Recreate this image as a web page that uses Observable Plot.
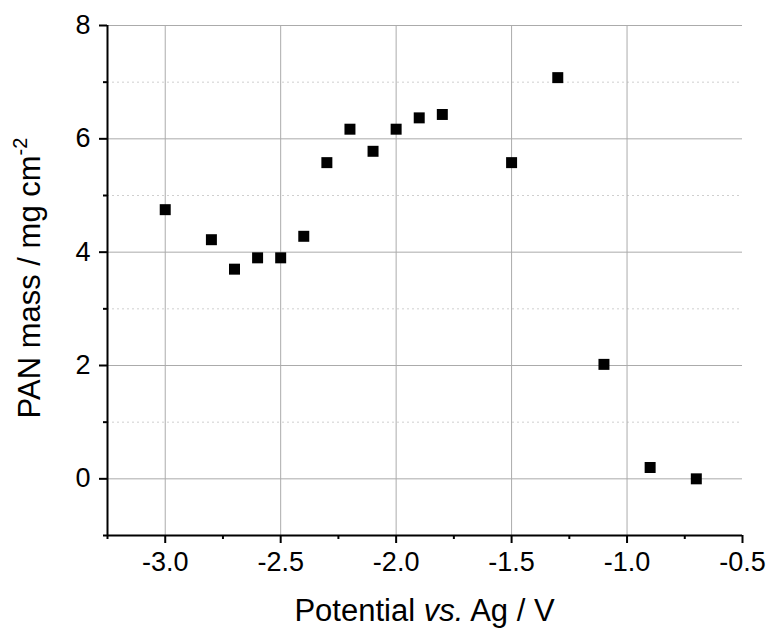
<!DOCTYPE html>
<html>
<head>
<meta charset="utf-8">
<script src="https://cdn.jsdelivr.net/npm/d3@7"></script>
<script src="https://cdn.jsdelivr.net/npm/@observablehq/plot@0.6"></script>
<style>
  html, body { margin: 0; padding: 0; background: #fff; }
  svg { font-family: "Liberation Sans", Arial, sans-serif; }
</style>
</head>
<body>
<div id="chart"></div>
<script>
const potential = [-3.0, -2.8, -2.7, -2.6, -2.5, -2.4, -2.3, -2.2, -2.1, -2.0, -1.9, -1.8, -1.5, -1.3, -1.1, -0.9, -0.7];
const mass      = [4.75, 4.22, 3.70, 3.90, 3.90, 4.28, 5.58, 6.17, 5.78, 6.17, 6.37, 6.43, 5.58, 7.08, 2.02, 0.20, 0.00];
const xMajorTicks = [-3.0, -2.5, -2.0, -1.5, -1.0, -0.5];
const xMinorTicks = [-3.25, -2.75, -2.25, -1.75, -1.25, -0.75];
const yMajorTicks = [0, 2, 4, 6, 8];
const yMinorTicks = [-1, 1, 3, 5, 7];

const data = potential.map((p, i) => ({potential: p, mass: mass[i]}));

const W = 769, H = 628;
const chart = Plot.plot({
  width: W,
  height: H,
  marginLeft: 107,
  marginRight: 27,
  marginTop: 25,
  marginBottom: 93,
  style: {fontFamily: "'Liberation Sans', Arial, sans-serif", background: "#fff", overflow: "visible"},
  x: {domain: [-3.25, -0.5], label: null},
  y: {domain: [-1, 8], label: null},
  marks: [
    Plot.gridY(yMinorTicks.filter(d => d > -1), {stroke: "#cfcfcf", strokeOpacity: 1, strokeDasharray: "2,3"}),
    Plot.gridY(yMajorTicks, {stroke: "#ababab", strokeOpacity: 1}),
    Plot.gridX(xMajorTicks.filter(d => d < -0.5), {stroke: "#ababab", strokeOpacity: 1}),
    Plot.axisX(xMajorTicks, {tickSize: 8, tickPadding: 8, tickFormat: d => d.toFixed(1), fontSize: 27, stroke: "#000", strokeWidth: 2, color: "#000"}),
    Plot.axisX(xMinorTicks, {tickSize: 4, text: null, stroke: "#000", strokeWidth: 2}),
    Plot.axisY(yMajorTicks, {tickSize: 8, tickPadding: 9, tickFormat: d => String(d), fontSize: 27, stroke: "#000", strokeWidth: 2, color: "#000"}),
    Plot.axisY(yMinorTicks, {tickSize: 4, text: null, stroke: "#000", strokeWidth: 2}),
    Plot.ruleX([-3.25], {stroke: "#000", strokeWidth: 2}),
    Plot.ruleY([-1], {stroke: "#000", strokeWidth: 2}),
    Plot.dot(data, {x: "potential", y: "mass", symbol: "square", r: 6.2, fill: "#000", stroke: "none"})
  ]
});

const svg = d3.select(chart);
svg.selectAll("text").attr("fill", "#000");
// X axis title
const xt = svg.append("text")
  .attr("x", (107 + (W - 27)) / 2)
  .attr("y", 621)
  .attr("text-anchor", "middle")
  .attr("font-size", 31)
  .attr("fill", "#000");
xt.append("tspan").text("Potential ");
xt.append("tspan").attr("font-style", "italic").text("vs.");
xt.append("tspan").text(" Ag / V");
// Y axis title
const yt = svg.append("text")
  .attr("transform", `translate(40, ${(25 + (H - 93)) / 2 - 2}) rotate(-90)`)
  .attr("text-anchor", "middle")
  .attr("font-size", 31)
  .attr("fill", "#000");
yt.append("tspan").text("PAN mass / mg cm");
yt.append("tspan").attr("font-size", 20).attr("dy", -13).text("-2");

document.getElementById("chart").appendChild(chart);
</script>
</body>
</html>
